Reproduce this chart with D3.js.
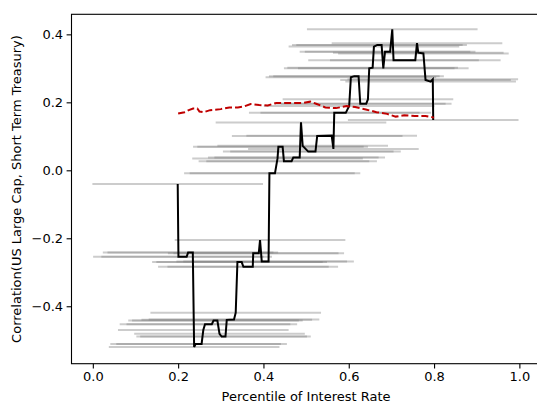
<!DOCTYPE html>
<html>
<head>
<meta charset="utf-8">
<title>Correlation by rate percentile</title>
<script src="https://cdn.jsdelivr.net/npm/d3@7"></script>
<style>
  body { margin: 0; background: #fff; }
  svg { display: block; font-family: "DejaVu Sans", sans-serif; }
  .axis text { font-size: 13px; fill: #000; }
  .axis line, .axis path { stroke: #000; stroke-width: 1.1px; }
  .label { font-size: 13px; fill: #000; }
</style>
</head>
<body>
<div id="chart"></div>
<script>
// window centre (percentile) and correlation in that window
var pctl = [0.199, 0.2007, 0.220, 0.2234, 0.2344, 0.2375, 0.241, 0.255, 0.259, 0.263,
            0.279, 0.283, 0.292, 0.297, 0.302, 0.311, 0.314, 0.331, 0.335, 0.339,
            0.349, 0.353, 0.375, 0.376, 0.389, 0.392, 0.396, 0.412, 0.414, 0.427,
            0.433, 0.435, 0.445, 0.448, 0.466, 0.470, 0.485, 0.488, 0.492, 0.505,
            0.522, 0.526, 0.560, 0.564, 0.566, 0.593, 0.601, 0.605, 0.613, 0.623,
            0.627, 0.641, 0.645, 0.648, 0.656, 0.659, 0.667, 0.677, 0.681, 0.685,
            0.697, 0.702, 0.705, 0.756, 0.760, 0.763, 0.775, 0.780, 0.792, 0.797,
            0.798];
var corr = [-0.040, -0.254, -0.254, -0.242, -0.242, -0.520, -0.511, -0.511, -0.470, -0.453,
            -0.453, -0.442, -0.442, -0.481, -0.489, -0.489, -0.440, -0.439, -0.419, -0.270,
            -0.270, -0.284, -0.284, -0.244, -0.244, -0.205, -0.268, -0.268, -0.009, -0.009,
            0.035, 0.069, 0.069, 0.027, 0.027, 0.038, 0.038, 0.141, 0.072, 0.055,
            0.055, 0.101, 0.102, 0.063, 0.169, 0.169, 0.189, 0.274, 0.277, 0.277,
            0.196, 0.196, 0.209, 0.300, 0.302, 0.364, 0.369, 0.369, 0.300, 0.349,
            0.349, 0.415, 0.324, 0.324, 0.374, 0.346, 0.344, 0.266, 0.261, 0.268,
            0.148];

// red dashed reference curve
var refX = [0.200, 0.215, 0.225, 0.235, 0.245, 0.250, 0.260, 0.275, 0.300, 0.320,
            0.340, 0.355, 0.370, 0.390, 0.410, 0.430, 0.460, 0.490, 0.510, 0.525,
            0.545, 0.570, 0.595, 0.615, 0.640, 0.665, 0.690, 0.710, 0.730, 0.755,
            0.780, 0.800];
var refY = [0.167, 0.171, 0.177, 0.182, 0.182, 0.173, 0.171, 0.177, 0.180, 0.185,
            0.185, 0.188, 0.195, 0.192, 0.191, 0.198, 0.198, 0.198, 0.202, 0.195,
            0.185, 0.183, 0.189, 0.186, 0.179, 0.171, 0.166, 0.158, 0.162, 0.160,
            0.160, 0.155];

var halfWindow = 0.2;
var xTicks = [0, 0.2, 0.4, 0.6, 0.8, 1.0];
var yTicks = [-0.4, -0.2, 0, 0.2, 0.4];

var width = 537, height = 404;
var plotL = 71.5, plotR = 540.7, plotT = 14.3, plotB = 363.7;

var svg = d3.select('#chart')
    .append('svg')
    .attr('width', width)
    .attr('height', height);

var xScale = d3.scaleLinear().domain([-0.05, 1.05]).range([plotL, plotR]);
var yScale = d3.scaleLinear().domain([-0.569, 0.459]).range([plotB, plotT]);

var pts = pctl.map(function(p, i){ return [p, corr[i]]; });

// grey window segments
svg.append('g')
    .selectAll('line')
    .data(pts)
    .enter()
    .append('line')
    .attr('x1', function(d){ return xScale(d[0] - halfWindow); })
    .attr('x2', function(d){ return xScale(d[0] + halfWindow); })
    .attr('y1', function(d){ return yScale(d[1]); })
    .attr('y2', function(d){ return yScale(d[1]); })
    .attr('stroke', '#808080')
    .attr('stroke-opacity', 0.4)
    .attr('stroke-width', 2);

var line = d3.line()
    .x(function(d){ return xScale(d[0]); })
    .y(function(d){ return yScale(d[1]); });

svg.append('path')
    .datum(pts)
    .attr('d', line)
    .attr('fill', 'none')
    .attr('stroke', '#000')
    .attr('stroke-width', 2);

svg.append('path')
    .datum(refX.map(function(x, i){ return [x, refY[i]]; }))
    .attr('d', line)
    .attr('fill', 'none')
    .attr('stroke', '#c00000')
    .attr('stroke-width', 2)
    .attr('stroke-dasharray', '7,3');

// frame
svg.append('rect')
    .attr('x', plotL)
    .attr('y', plotT)
    .attr('width', plotR - plotL)
    .attr('height', plotB - plotT)
    .attr('fill', 'none')
    .attr('stroke', '#000')
    .attr('stroke-width', 1.1);

var fmt = d3.format('.1f');

var xAxis = d3.axisBottom(xScale).tickValues(xTicks).tickFormat(fmt)
    .tickSize(4.9).tickSizeOuter(0).tickPadding(3.5);
var yAxis = d3.axisLeft(yScale).tickValues(yTicks).tickFormat(fmt)
    .tickSize(4.9).tickSizeOuter(0).tickPadding(3.5);

var xAxisG = svg.append('g')
    .attr('class', 'axis')
    .attr('transform', 'translate(0,' + plotB + ')')
    .call(xAxis);
xAxisG.select('.domain').remove();

var yAxisG = svg.append('g')
    .attr('class', 'axis')
    .attr('transform', 'translate(' + plotL + ',0)')
    .call(yAxis);
yAxisG.select('.domain').remove();

svg.selectAll('.axis').attr('font-family', null).attr('font-size', null);

svg.append('text')
    .attr('class', 'label')
    .attr('x', (plotL + plotR) / 2)
    .attr('y', 401)
    .attr('text-anchor', 'middle')
    .text('Percentile of Interest Rate');

svg.append('text')
    .attr('class', 'label')
    .attr('transform', 'translate(21,' + ((plotT + plotB) / 2) + ') rotate(-90)')
    .attr('text-anchor', 'middle')
    .text('Correlation(US Large Cap, Short Term Treasury)');
</script>
</body>
</html>
